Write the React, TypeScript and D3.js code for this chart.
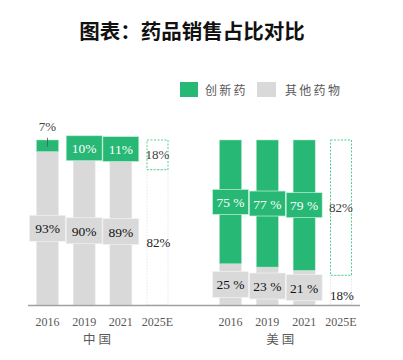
import React from "react";
import * as d3 from "d3";

const years = ["2016", "2019", "2021", "2025E"];
const chinaInnov = [7, 10, 11, 18];
const chinaOther = [93, 90, 89, 82];
const usInnov = [75, 77, 79, 82];
const usOther = [25, 23, 21, 18];
const groupNames = ["中国", "美国"];
const legendNames = ["创新药", "其他药物"];
const title = "图表：药品销售占比对比";

const GREEN = "#26b874";
const GRAY = "#d9d9d9";

export default function App() {
  const W = 403, H = 360;
  const top = 140, base = 305;
  const y = d3.scaleLinear().domain([0, 100]).range([base, top]);
  const xChina = d3.scalePoint<string>().domain(years).range([47.5, 157.5]);
  const xUS = d3.scalePoint<string>().domain(years).range([230.5, 341]);
  const bw = 22;
  const boxW = 36, boxH = 26;

  const groups = [
    { name: groupNames[0], x: xChina, innov: chinaInnov, other: chinaOther, sep: "" },
    { name: groupNames[1], x: xUS, innov: usInnov, other: usOther, sep: " " },
  ];

  const numFont = "'Liberation Serif', 'Times New Roman', serif";
  const cjk = "'Noto Sans CJK SC', sans-serif";

  return (
    <svg width={W} height={H} style={{ position: "absolute", left: 0, top: 0, background: "#fff" }}>
      <text x={192} y={39} textAnchor="middle" fontFamily={cjk} fontWeight="bold" fontSize={20.5} fill="#111">
        {title}
      </text>
      {/* legend */}
      <rect x={180} y={82} width={18} height={15} fill={GREEN} />
      <text x={205} y={94.5} fontFamily={cjk} fontSize={12} letterSpacing={2.2} fill="#595959">{legendNames[0]}</text>
      <rect x={257} y={82} width={19} height={15} fill={GRAY} />
      <text x={285} y={94.5} fontFamily={cjk} fontSize={12} letterSpacing={2.3} fill="#595959">{legendNames[1]}</text>

      {groups.map((g, gi) => {
        const centers = years.map((yr) => g.x(yr) as number);
        return (
          <g key={gi}>
            {years.map((yr, i) => {
              const cx = centers[i];
              const x0 = cx - bw / 2;
              const isEst = i === years.length - 1;
              const innovTopY = y(100);
              const innovBotY = y(100 - g.innov[i]);
              const otherTopY = innovBotY;
              const otherBotY = y(0);
              const innovMid = (innovTopY + innovBotY) / 2;
              const otherMid = (otherTopY + otherBotY) / 2;
              const innovLabel = `${g.innov[i]}${g.sep}%`;
              const otherLabel = `${g.other[i]}${g.sep}%`;
              if (isEst) {
                return (
                  <g key={yr}>
                    <rect x={x0 + 0.5} y={otherTopY} width={bw - 1} height={otherBotY - otherTopY}
                      fill="none" stroke="#e6e6e6" strokeWidth={1} strokeDasharray="1.5,1.5" />
                    <rect x={x0 + 0.5} y={innovTopY} width={bw - 1} height={innovBotY - innovTopY}
                      fill="none" stroke="#4fd08f" strokeWidth={1} strokeDasharray="2,1.5" />
                    <text x={cx} y={innovMid + 4.5} textAnchor="middle" fontFamily={numFont} fontSize={13} fill="#404040">
                      {`${g.innov[i]}%`}
                    </text>
                    <text x={cx + 1} y={otherMid + 10} textAnchor="middle" fontFamily={numFont} fontSize={13} fill="#222">
                      {`${g.other[i]}%`}
                    </text>
                  </g>
                );
              }
              const smallInnov = g.innov[i] < 9;
              return (
                <g key={yr}>
                  <rect x={x0} y={otherTopY} width={bw} height={otherBotY - otherTopY} fill={GRAY} stroke="#ececec" strokeWidth={0.5} />
                  <rect x={x0} y={innovTopY} width={bw} height={innovBotY - innovTopY} fill={GREEN} stroke="#a8e6c6" strokeWidth={0.5} />
                  {smallInnov ? (
                    <g>
                      <line x1={cx} x2={cx} y1={innovMid - 8} y2={innovMid + 1} stroke="#555" strokeWidth={0.8} />
                      <text x={cx} y={131} textAnchor="middle" fontFamily={numFont} fontSize={13} fill="#404040">{innovLabel}</text>
                    </g>
                  ) : (
                    <g>
                      <rect x={cx - boxW / 2} y={innovMid - boxH / 2 + 0.5} width={boxW} height={boxH - 1} fill={GREEN} stroke="#c9f0dc" strokeWidth={0.7} />
                      <text x={cx} y={innovMid + 5} textAnchor="middle" fontFamily={numFont} fontSize={13.5} fill="#fff">{innovLabel}</text>
                    </g>
                  )}
                  <rect x={cx - boxW / 2} y={otherMid - boxH / 2} width={boxW} height={boxH} fill={GRAY} stroke="#f2f2f2" strokeWidth={0.7} />
                  <text x={cx} y={otherMid + 5} textAnchor="middle" fontFamily={numFont} fontSize={13.5} fill="#111">{otherLabel}</text>
                </g>
              );
            })}
            {years.map((yr, i) => (
              <text key={"t" + yr} x={centers[i]} y={326} textAnchor="middle" fontFamily={numFont} fontSize={12} fill="#595959">
                {yr}
              </text>
            ))}
            <text x={(centers[0] + centers[3]) / 2 - 4} y={344} textAnchor="middle" fontFamily={cjk} fontSize={12.5} letterSpacing={3} fill="#595959">
              {g.name}
            </text>
          </g>
        );
      })}
      <line x1={28} x2={360} y1={305.5} y2={305.5} stroke="#a0a0a0" strokeWidth={1.3} />
    </svg>
  );
}
